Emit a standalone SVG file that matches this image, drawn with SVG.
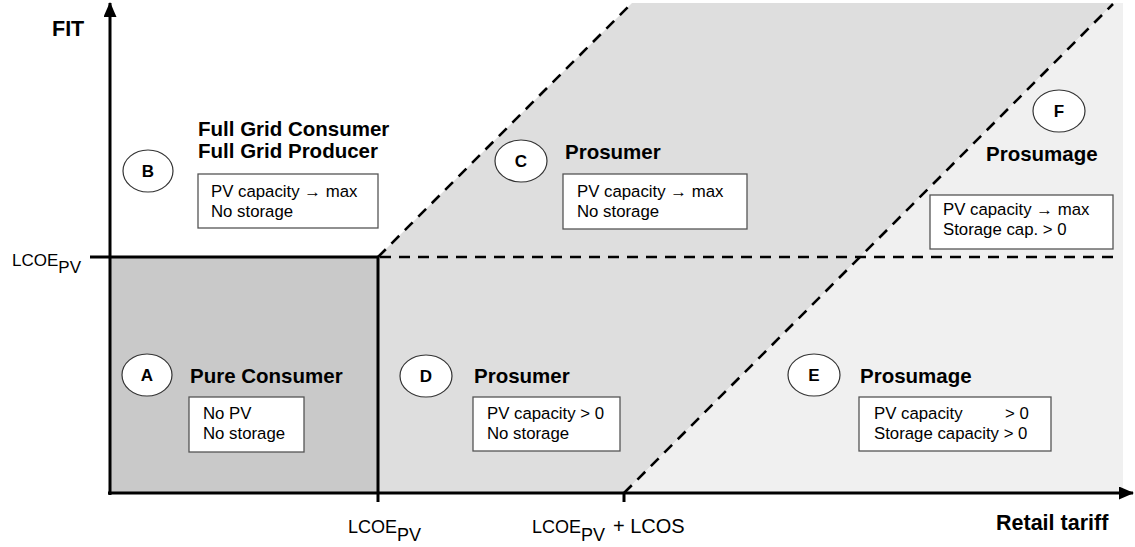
<svg xmlns="http://www.w3.org/2000/svg" width="1135" height="547" viewBox="0 0 1135 547">
<defs>
<marker id="arrY" markerWidth="15" markerHeight="14" refX="14" refY="6.5" orient="auto" markerUnits="userSpaceOnUse">
<path d="M0,0 L15,6.5 L0,13 Z" fill="#000"/>
</marker>
<style>
.t{font-family:"Liberation Sans",Arial,sans-serif;fill:#000}
.title{font-size:20.5px;font-weight:bold}
.body{font-size:16.8px}
.lbl{font-size:17px;font-weight:bold;text-anchor:middle}
.ax{font-size:21.5px;font-weight:bold}
.tick{font-size:18px}
.box{fill:#fff;stroke:#555;stroke-width:1.3}
.circ{fill:#fff;stroke:#333;stroke-width:1.2}
.dash{stroke:#000;stroke-width:2.6;stroke-dasharray:11 8;fill:none}
.solid{stroke:#000;stroke-width:3;fill:none}
</style>
</defs>
<rect width="1135" height="547" fill="#fff"/>
<g id="regions">
<rect x="110" y="257" width="268" height="236" fill="#c9c9c9"/>
<polygon points="378,257 632,3 1114,3 624,493 378,493" fill="#dedede"/>
<polygon points="624,493 1114,3 1123,3 1123,493" fill="#f0f0f0"/>
</g>
<g id="connectors">
<line class="dash" x1="378" y1="257" x2="632" y2="3"/>
<line class="dash" x1="380" y1="257" x2="1114" y2="257"/>
<line class="dash" x1="624" y1="493" x2="1113" y2="4"/>
<line class="solid" x1="90" y1="257" x2="378" y2="257"/>
<line class="solid" x1="378" y1="257" x2="378" y2="502"/>
<line class="solid" x1="624" y1="493" x2="624" y2="502"/>
<line class="solid" x1="110" y1="495" x2="110" y2="3" marker-end="url(#arrY)"/>
<line class="solid" x1="108" y1="493" x2="1133" y2="493" marker-end="url(#arrY)"/>
</g>
<g id="axis-labels">
<text class="t ax" x="52" y="36">FIT</text>
<text class="t ax" x="996" y="530">Retail tariff</text>
<text class="t tick" x="12" y="266" style="font-size:17px">LCOE<tspan dy="7">PV</tspan></text>
<text class="t tick" x="348" y="533">LCOE<tspan dy="8">PV</tspan></text>
<text class="t tick" x="532" y="533">LCOE<tspan dy="8">PV</tspan><tspan x="613" dy="-8" style="font-size:20px">+ LCOS</tspan></text>
</g>
<g id="node-A">
<ellipse class="circ" cx="147" cy="375" rx="25" ry="21"/>
<text class="t lbl" x="147" y="381">A</text>
<text class="t title" x="190" y="383">Pure Consumer</text>
<rect class="box" x="189" y="397" width="115" height="55"/>
<text class="t body" x="203" y="419">No PV</text>
<text class="t body" x="203" y="439">No storage</text>
</g>
<g id="node-B">
<ellipse class="circ" cx="148" cy="171" rx="25" ry="21"/>
<text class="t lbl" x="148" y="177">B</text>
<text class="t title" x="198" y="136">Full Grid Consumer</text>
<text class="t title" x="198" y="158">Full Grid Producer</text>
<rect class="box" x="198" y="174" width="180" height="54"/>
<text class="t body" x="211" y="197">PV capacity → max</text>
<text class="t body" x="211" y="217">No storage</text>
</g>
<g id="node-C">
<ellipse class="circ" cx="521" cy="161" rx="26" ry="21"/>
<text class="t lbl" x="521" y="167">C</text>
<text class="t title" x="565" y="159">Prosumer</text>
<rect class="box" x="563" y="174" width="184" height="55"/>
<text class="t body" x="577" y="197">PV capacity  → max</text>
<text class="t body" x="577" y="217">No storage</text>
</g>
<g id="node-D">
<ellipse class="circ" cx="426" cy="376" rx="26" ry="21"/>
<text class="t lbl" x="426" y="382">D</text>
<text class="t title" x="474" y="383">Prosumer</text>
<rect class="box" x="473" y="397" width="147" height="54"/>
<text class="t body" x="487" y="419">PV capacity &gt; 0</text>
<text class="t body" x="487" y="439">No storage</text>
</g>
<g id="node-E">
<ellipse class="circ" cx="814" cy="375" rx="26" ry="21"/>
<text class="t lbl" x="814" y="381">E</text>
<text class="t title" x="860" y="383">Prosumage</text>
<rect class="box" x="859" y="397" width="192" height="54"/>
<text class="t body" x="874" y="419">PV capacity</text>
<text class="t body" x="1005" y="419">&gt; 0</text>
<text class="t body" x="874" y="439">Storage capacity &gt; 0</text>
</g>
<g id="node-F">
<ellipse class="circ" cx="1059" cy="111" rx="26" ry="21"/>
<text class="t lbl" x="1059" y="117">F</text>
<text class="t title" x="986" y="161">Prosumage</text>
<rect class="box" x="930" y="195" width="183" height="54"/>
<text class="t body" x="943" y="215">PV capacity  → max</text>
<text class="t body" x="943" y="235">Storage  cap. &gt; 0</text>
</g>
</svg>
